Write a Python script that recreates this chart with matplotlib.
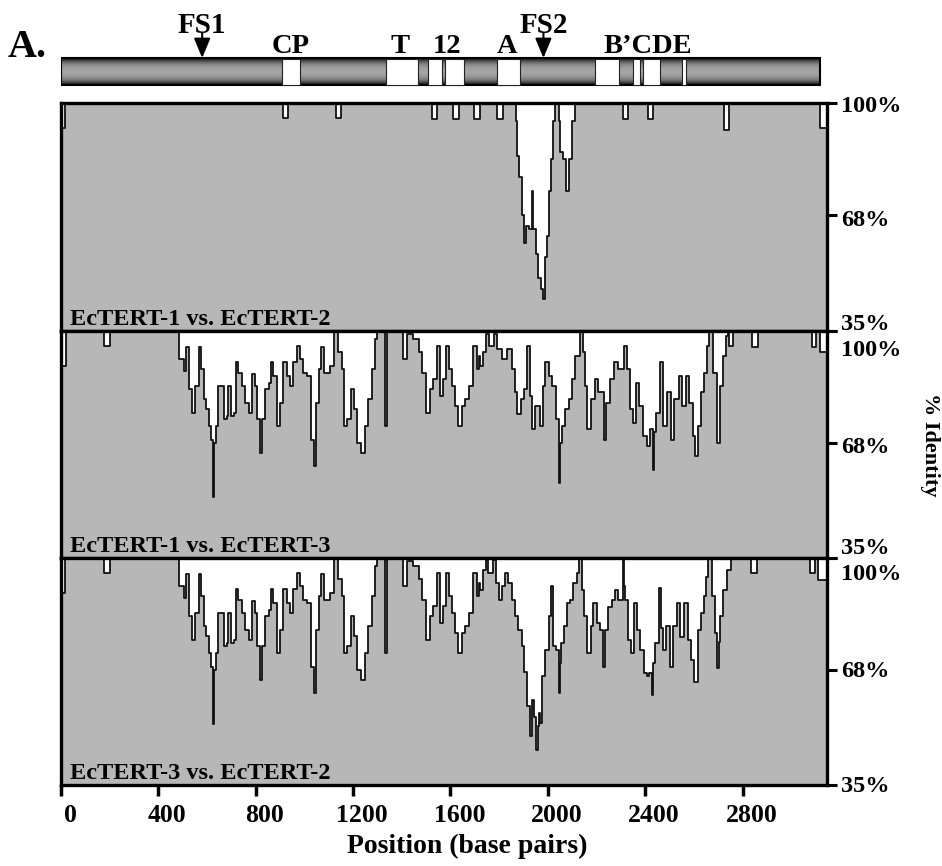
import numpy as np
import matplotlib
matplotlib.use("Agg")
import matplotlib.pyplot as plt
from matplotlib.patches import Rectangle
from matplotlib.transforms import ScaledTranslation

plt.rcParams["font.family"] = ["Liberation Serif", "DejaVu Serif"]
plt.rcParams["font.weight"] = "bold"

# --- gene map (base pairs) ---
gene_length = 3120
domain_starts = [908, 1336, 1509, 1578, 1791, 2195, 2350, 2390, 2552]
domain_ends = [980, 1466, 1565, 1656, 1884, 2293, 2379, 2461, 2567]
domain_labels = ["CP", "T", "12", "A", "B’CDE"]
domain_label_pos = [942, 1393, 1587, 1833, 2410]
frameshift_pos = [580, 1982]
frameshift_labels = ["FS1", "FS2"]

# --- identity profiles: step start position (bp) and % identity ---
pos1 = [0, 15, 913, 934, 1131, 1152, 1525, 1546, 1612, 1636, 1698, 1722, 1792, 1817,
        1870, 1874, 1882, 1895, 1903, 1911, 1922, 1935, 1940, 1950, 1960, 1972, 1981,
        1988, 1997, 2005, 2014, 2022, 2030, 2046, 2050, 2062, 2075, 2085, 2100, 2112,
        2309, 2330, 2412, 2433, 2724, 2745, 3118, 3147]
ident1 = [92.8, 100, 95.7, 100, 95.7, 100, 95.4, 100, 95.4, 100, 95.4, 100, 95.4, 100,
          95, 85, 79, 68, 60, 65, 64, 75, 64, 57, 50, 47, 44,
          56, 62, 75, 84, 95, 100, 95, 86, 84, 75, 84, 95, 100,
          95.4, 100, 95.4, 100, 92.3, 100, 92.8, 92.8]

pos2 = [0, 20, 178, 202, 483, 504, 515, 524, 538, 551, 565, 575, 586, 597, 606, 616, 623,
        630, 636, 645, 671, 682, 688, 698, 709, 718, 729, 743, 757, 771, 784, 795, 805,
        816, 827, 839, 853, 862, 873, 887, 901, 914, 928, 942, 955, 969, 983, 996, 1010,
        1027, 1038, 1049, 1058, 1068, 1081, 1106, 1120, 1136, 1154, 1163, 1177, 1191,
        1202, 1215, 1232, 1250, 1263, 1277, 1291, 1300, 1332, 1341, 1407, 1421, 1448,
        1469, 1483, 1500, 1517, 1530, 1544, 1558, 1569, 1580, 1592, 1606, 1619, 1633,
        1647, 1660, 1677, 1692, 1708, 1719, 1722, 1733, 1747, 1760, 1777, 1793, 1811,
        1832, 1852, 1866, 1875, 1889, 1903, 1914, 1927, 1937, 1948, 1966, 1979, 1990,
        2003, 2016, 2034, 2044, 2048, 2052, 2057, 2071, 2085, 2098, 2112, 2133, 2144,
        2153, 2163, 2178, 2192, 2208, 2229, 2239, 2256, 2270, 2290, 2311, 2324, 2338,
        2352, 2363, 2376, 2393, 2406, 2420, 2431, 2437, 2445, 2461, 2475, 2489, 2505,
        2519, 2537, 2550, 2568, 2582, 2595, 2605, 2619, 2628, 2642, 2656, 2664, 2678,
        2697, 2708, 2719, 2732, 2742, 2746, 2762, 2838, 2865, 3084, 3102, 3118, 3147]
ident2 = [90, 100, 95.7, 100, 91.9, 88.6, 95.3, 83.3, 76.6, 84.3, 95.3, 89.1, 80.4, 77.6, 72.8, 68.9, 52.6,
          68.0, 72.8, 84.3, 74.7, 75.6, 84.3, 75.6, 76.6, 91.0, 88.1, 84.3, 79.5, 76.6, 87.6, 84.3, 74.7,
          65.1, 74.7, 83.3, 85.2, 91.0, 87.2, 72.8, 79.5, 91.0, 87.2, 84.3, 91.0, 95.8, 91.9, 88.1, 87.2,
          68.9, 61.3, 79.5, 89.1, 95.3, 88.1, 90.0, 100, 93.9, 89.1, 72.8, 74.7, 83.3,
          77.6, 68.0, 65.1, 72.8, 80.4, 89.1, 97.7, 100, 72.8, 100, 91.9, 99.1, 97.7,
          93.9, 88.1, 76.6, 83.3, 86.2, 95.8, 81.4, 86.2, 95.8, 89.1, 84.3, 78.5, 72.8,
          78.5, 80.4, 84.3, 95.8, 89.1, 92.9, 90.0, 93.9, 99.1, 95.8, 99.1, 94.8, 91.9,
          94.8, 89.1, 82.4, 76.1, 80.4, 83.3, 95.8, 81.4, 71.8, 78.5, 72.8, 84.3, 91.0,
          87.2, 84.3, 74.7, 68.0, 56.5, 68.0, 72.8, 77.6, 80.4, 86.2, 92.9, 100, 93.9,
          84.3, 71.8, 80.4, 86.2, 82.4, 68.9, 79.5, 86.2, 91.0, 89.1, 95.8, 89.1, 77.6,
          73.7, 85.2, 78.5, 69.9, 67.0, 71.8, 60.3, 71.0, 76.6, 91.0, 72.8, 82.4, 68.9,
          80.4, 87.2, 78.5, 87.2, 79.5, 69.9, 64.1, 72.8, 82.4, 88.1, 95.8, 100, 88.1,
          68.0, 84.3, 92.9, 98.7, 100, 95.8, 100, 95.3, 100, 95.3, 100, 93.9, 93.9]

pos3 = [0, 15, 175, 202, 483, 504, 515, 524, 538, 551, 565, 575, 586, 597, 606, 616, 623,
        630, 636, 645, 671, 682, 688, 698, 709, 718, 729, 743, 757, 771, 784, 795, 805,
        816, 827, 839, 853, 862, 873, 887, 901, 914, 928, 942, 955, 969, 983, 996, 1010,
        1027, 1038, 1049, 1058, 1068, 1081, 1106, 1120, 1136, 1154, 1163, 1177, 1191,
        1202, 1215, 1232, 1250, 1263, 1277, 1291, 1300, 1332, 1341, 1407, 1421, 1448,
        1469, 1483, 1500, 1517, 1530, 1544, 1558, 1569, 1580, 1592, 1606, 1619, 1633,
        1647, 1660, 1677, 1692, 1708, 1719, 1722, 1733, 1747, 1756, 1774, 1788, 1801,
        1812, 1825, 1838, 1852, 1866, 1879, 1893, 1903, 1914, 1925, 1934, 1944, 1952,
        1958, 1962, 1968, 1975, 1989, 2003, 2014, 2020, 2023, 2034, 2044, 2050, 2055,
        2067, 2078, 2092, 2105, 2119, 2130, 2141, 2150, 2160, 2177, 2187, 2201, 2215,
        2226, 2235, 2249, 2263, 2276, 2290, 2308, 2312, 2319, 2331, 2341, 2354, 2365,
        2379, 2395, 2406, 2417, 2427, 2433, 2441, 2457, 2465, 2472, 2486, 2500, 2513,
        2530, 2543, 2560, 2574, 2589, 2602, 2615, 2628, 2642, 2650, 2660, 2673, 2687,
        2697, 2704, 2708, 2721, 2735, 2751, 2834, 2858, 3077, 3098, 3111, 3147]
ident3 = [90, 100, 95.7, 100, 91.9, 88.6, 95.3, 83.3, 76.6, 84.3, 95.3, 89.1, 80.4, 77.6, 72.8, 68.9, 52.6,
          68.0, 72.8, 84.3, 74.7, 75.6, 84.3, 75.6, 76.6, 91.0, 88.1, 84.3, 79.5, 76.6, 87.6, 84.3, 74.7,
          65.1, 74.7, 83.3, 85.2, 91.0, 87.2, 72.8, 79.5, 91.0, 87.2, 84.3, 91.0, 95.8, 91.9, 88.1, 87.2,
          68.9, 61.3, 79.5, 89.1, 95.3, 88.1, 90.0, 100, 93.9, 89.1, 72.8, 74.7, 83.3,
          77.6, 68.0, 65.1, 72.8, 80.4, 89.1, 97.7, 100, 72.8, 100, 91.9, 99.1, 97.7,
          93.9, 88.1, 76.6, 83.3, 86.2, 95.8, 81.4, 86.2, 95.8, 89.1, 84.3, 78.5, 72.8,
          78.5, 80.4, 84.3, 95.8, 89.1, 92.9, 90.9, 96.6, 99.5, 95.7, 99.5, 92.8, 88.0,
          91.9, 95.7, 92.8, 88.0, 83.3, 79.4, 74.7, 67.5, 57.5, 48.9, 59.4, 54.6, 45.0,
          52.0, 55.6, 52.7, 66.1, 73.7, 83.3, 91.9, 83.0, 74.7, 73.7, 61.3, 70.0, 75.6,
          80.4, 87.1, 88.0, 92.8, 95.7, 100, 90.9, 83.3, 72.8, 80.4, 87.1, 81.4, 79.4,
          68.9, 79.4, 86.1, 88.0, 90.9, 88.0, 100, 92.0, 88.0, 76.6, 72.8, 87.1, 79.4,
          73.7, 67.0, 66.1, 67.0, 60.8, 70.0, 75.6, 91.4, 80.0, 73.7, 80.4, 68.9, 80.4,
          87.1, 77.5, 87.1, 76.6, 70.8, 64.6, 79.4, 84.2, 89.0, 94.7, 100, 89.0, 78.5,
          68.5, 76.0, 83.3, 90.9, 96.6, 100, 95.7, 100, 95.7, 100, 93.8, 93.8]

panel_titles = ["EcTERT-1 vs. EcTERT-2", "EcTERT-1 vs. EcTERT-3", "EcTERT-3 vs. EcTERT-2"]
ytick_vals = [35, 68, 100]
ytick_text = ["35%", "68%", "100%"]
xtick_vals = [0, 400, 800, 1200, 1600, 2000, 2400, 2800]

W, H = 942, 866
fig = plt.figure(figsize=(W / 100, H / 100), dpi=100)
left, width = 61 / W, 766 / W
xmax = 3147
grey = "#b7b7b7"

# gene diagram
ax0 = fig.add_axes([left, 1 - 100 / H, width, 100 / H])
ax0.set_xlim(0, xmax)
ax0.set_ylim(100, 0)
ax0.axis("off")
shade = np.array([0.12, 0.28, 0.42, 0.52, 0.58, 0.62, 0.64, 0.65, 0.64, 0.62, 0.58, 0.52, 0.42, 0.28, 0.12])
ax0.imshow(shade[:, None], cmap="gray", vmin=0, vmax=1, aspect="auto",
           extent=(0, gene_length, 85, 58), interpolation="bilinear")
ax0.add_patch(Rectangle((0, 58), gene_length, 27, fill=False, ec="k", lw=1.5))
for s, e in zip(domain_starts, domain_ends):
    ax0.add_patch(Rectangle((s, 58.5), e - s, 26, fc="white", ec="#222222", lw=0.8))
for p, lab in zip(domain_label_pos, domain_labels):
    ax0.text(p, 53, lab, ha="center", va="baseline", fontsize=20.5)
for p, lab in zip(frameshift_pos, frameshift_labels):
    ax0.text(p, 33, lab, ha="center", va="baseline", fontsize=21)
    ax0.annotate("", xy=(p, 58), xytext=(p, 33),
                 arrowprops=dict(arrowstyle="-|>,head_width=0.25,head_length=0.6",
                                 mutation_scale=20, color="k", lw=1.5, shrinkA=0, shrinkB=0))
fig.text(8 / W, 1 - 57 / H, "A.", fontsize=29, ha="left", va="baseline")

# identity panels
tops = [103, 331, 558]
bottoms = [331, 558, 785]
series = [(pos1, ident1), (pos2, ident2), (pos3, ident3)]
label_shift = [[-7, 5, 4], [-9, 5, 19], [2, 2, 17]]  # px downward, per tick

for i in range(3):
    ax = fig.add_axes([left, 1 - bottoms[i] / H, width, (bottoms[i] - tops[i]) / H])
    pos, ident = series[i]
    ax.set_facecolor(grey)
    ax.fill_between(pos, ident, 100, step="post", color="white", lw=0)
    ax.step(pos, ident, where="post", color="#111111", lw=1.3)
    ax.set_xlim(0, xmax)
    ax.set_ylim(35, 100)
    for sp in ax.spines.values():
        sp.set_linewidth(2.4)
        sp.set_color("k")
    ax.yaxis.tick_right()
    ax.set_yticks(ytick_vals)
    ax.set_yticklabels(ytick_text)
    ax.tick_params(axis="y", direction="out", length=7, width=2.2, labelsize=17.5, pad=3)
    for lab, d in zip(ax.get_yticklabels(), label_shift[i]):
        lab.set_verticalalignment("center")
        lab.set_transform(lab.get_transform() + ScaledTranslation(0, -d / 100, fig.dpi_scale_trans))
    ax.text(0.012, 0.025, panel_titles[i], transform=ax.transAxes, fontsize=17.5,
            ha="left", va="baseline")
    if i < 2:
        ax.tick_params(axis="x", bottom=False, labelbottom=False)
    else:
        ax.set_xticks(xtick_vals)
        ax.set_xticklabels([str(v) for v in xtick_vals])
        ax.tick_params(axis="x", direction="out", length=8, width=2.5, labelsize=18.5, pad=6)
        for lab in ax.get_xticklabels():
            lab.set_transform(lab.get_transform() + ScaledTranslation(0.09, 0, fig.dpi_scale_trans))

fig.text(467 / W, 1 - 846 / H, "Position (base pairs)", ha="center", va="center", fontsize=20)
fig.text(930 / W, 1 - 445 / H, "% Identity", ha="center", va="center", rotation=270, fontsize=16)

fig.savefig("out.png", dpi=100, facecolor="white")
